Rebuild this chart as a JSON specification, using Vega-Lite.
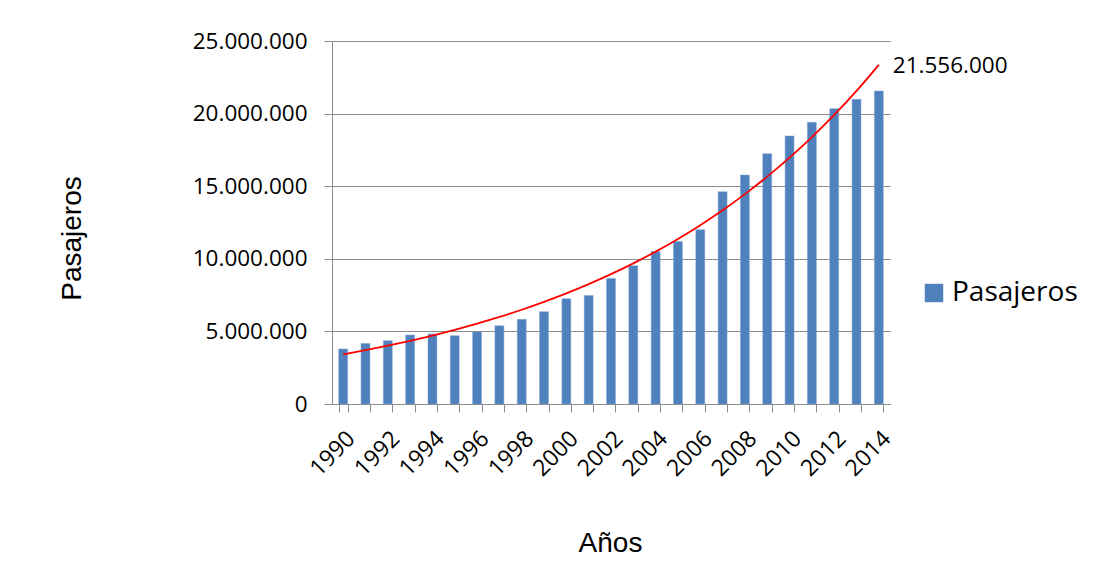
{
  "$schema": "https://vega.github.io/schema/vega-lite/v6.json",
  "autosize": {"type": "none"},
  "width": 558,
  "height": 363,
  "padding": {"left": 332, "top": 41, "right": 203, "bottom": 168},
  "background": "white",
  "config": {
    "locale": {"number": {"decimal": ",", "thousands": ".", "grouping": [3], "currency": ["", " €"]}},
    "view": {"stroke": null},
    "axis": {"labelFont": "Open Sans", "labelFontSize": 22, "labelColor": "#000000", "titleFont": "Liberation Sans", "titleFontSize": 28, "titleFontWeight": "normal", "titleColor": "#000000", "domainColor": "#8c8c8c", "tickColor": "#8c8c8c", "gridColor": "#8c8c8c", "tickSize": 8}
  },
  "data": {
    "values": [
      {"Year": 1990, "Pasajeros": 3790000, "Tendencia": 3422000},
      {"Year": 1991, "Pasajeros": 4170000, "Tendencia": 3707000},
      {"Year": 1992, "Pasajeros": 4360000, "Tendencia": 4016000},
      {"Year": 1993, "Pasajeros": 4750000, "Tendencia": 4351000},
      {"Year": 1994, "Pasajeros": 4820000, "Tendencia": 4713000},
      {"Year": 1995, "Pasajeros": 4700000, "Tendencia": 5106000},
      {"Year": 1996, "Pasajeros": 4960000, "Tendencia": 5532000},
      {"Year": 1997, "Pasajeros": 5390000, "Tendencia": 5993000},
      {"Year": 1998, "Pasajeros": 5830000, "Tendencia": 6492000},
      {"Year": 1999, "Pasajeros": 6360000, "Tendencia": 7033000},
      {"Year": 2000, "Pasajeros": 7250000, "Tendencia": 7619000},
      {"Year": 2001, "Pasajeros": 7480000, "Tendencia": 8254000},
      {"Year": 2002, "Pasajeros": 8650000, "Tendencia": 8941000},
      {"Year": 2003, "Pasajeros": 9520000, "Tendencia": 9686000},
      {"Year": 2004, "Pasajeros": 10510000, "Tendencia": 10494000},
      {"Year": 2005, "Pasajeros": 11200000, "Tendencia": 11368000},
      {"Year": 2006, "Pasajeros": 12000000, "Tendencia": 12316000},
      {"Year": 2007, "Pasajeros": 14620000, "Tendencia": 13342000},
      {"Year": 2008, "Pasajeros": 15770000, "Tendencia": 14454000},
      {"Year": 2009, "Pasajeros": 17240000, "Tendencia": 15658000},
      {"Year": 2010, "Pasajeros": 18460000, "Tendencia": 16963000},
      {"Year": 2011, "Pasajeros": 19400000, "Tendencia": 18377000},
      {"Year": 2012, "Pasajeros": 20340000, "Tendencia": 19908000},
      {"Year": 2013, "Pasajeros": 20980000, "Tendencia": 21567000},
      {"Year": 2014, "Pasajeros": 21556000, "Tendencia": 23364000}
    ]
  },
  "encoding": {
    "x": {
      "field": "Year",
      "type": "ordinal",
      "scale": {"paddingInner": 0.6, "paddingOuter": 0.3},
      "axis": {
        "title": "Años",
        "labelAngle": -45,
        "labelFontSize": 23,
        "labelExpr": "datum.value % 2 === 0 ? datum.label : ''",
        "labelOverlap": false,
        "labelPadding": 15,
        "tickBand": "extent",
        "titleX": 278,
        "titleY": 147,
        "titleBaseline": "alphabetic",
        "titleAlign": "center"
      }
    }
  },
  "layer": [
    {
      "mark": {"type": "bar", "stroke": "#7fa3d3", "strokeWidth": 0.5},
      "encoding": {
        "y": {
          "field": "Pasajeros",
          "type": "quantitative",
          "scale": {"domain": [0, 25000000], "nice": false},
          "axis": {
            "title": "Pasajeros",
            "format": ",d",
            "values": [0, 5000000, 10000000, 15000000, 20000000, 25000000],
            "grid": true,
            "labelPadding": 17,
            "labelFontSize": 22.5,
            "titleX": -252,
            "titleY": 197,
            "titleAlign": "center",
            "titleBaseline": "alphabetic",
            "titleAngle": -90
          }
        },
        "color": {
          "datum": "Pasajeros",
          "scale": {"range": ["#4f81bd"]},
          "legend": {
            "title": null,
            "orient": "none",
            "legendX": 588,
            "legendY": 238,
            "symbolType": "square",
            "symbolSize": 340,
            "symbolStrokeWidth": 0,
            "labelFont": "Open Sans",
            "labelFontSize": 28,
            "labelColor": "#000000",
            "labelOffset": 4
          }
        }
      }
    },
    {
      "mark": {"type": "line", "color": "#ff0000", "strokeWidth": 1.8, "interpolate": "monotone"},
      "encoding": {
        "y": {"field": "Tendencia", "type": "quantitative"}
      }
    },
    {
      "transform": [{"filter": "datum.Year === 2014"}],
      "mark": {"type": "text", "align": "left", "baseline": "alphabetic", "dx": 14, "dy": -18, "font": "Open Sans", "fontSize": 22.5, "color": "#000000"},
      "encoding": {
        "y": {"field": "Pasajeros", "type": "quantitative"},
        "text": {"field": "Pasajeros", "type": "quantitative", "format": ",d"}
      }
    }
  ]
}
